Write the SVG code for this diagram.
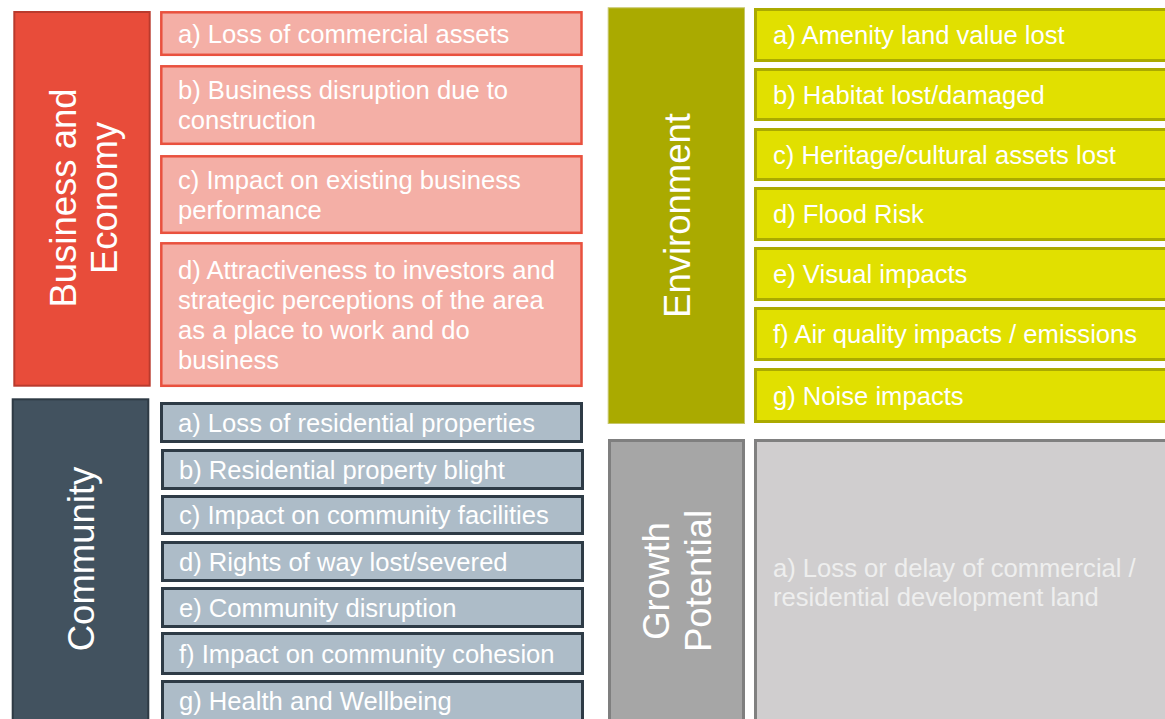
<svg xmlns="http://www.w3.org/2000/svg" width="1165" height="719" viewBox="0 0 1165 719">
<style>
text{font-family:"Liberation Sans",Arial,sans-serif;}
.hd{font-size:36.5px;fill:#ffffff;text-anchor:middle;}
.it{font-size:25.6px;fill:#ffffff;}
.gt{font-size:25.6px;fill:#eeeeee;}
.bh{fill:#E84C3A;stroke:#B93A2D;stroke-width:2;}
.bi{fill:#F4AFA6;stroke:#E9513E;stroke-width:2.5;}
.ch{fill:#42525F;stroke:#2E3A44;stroke-width:2;}
.ci{fill:#ADBCC8;stroke:#2E3B46;stroke-width:3;}
.eh{fill:#AAAA00;stroke:#C6C66A;stroke-width:1;}
.ei{fill:#E1E000;stroke:#ABAA00;stroke-width:3;}
.gh{fill:#A6A6A6;stroke:#7F7F7F;stroke-width:3;}
.gi{fill:#D0CECF;stroke:#808080;stroke-width:3;}
</style>
<rect width="1165" height="719" fill="#ffffff"/>
<g id="connectors"/>

<g id="business-header">
<rect class="bh" x="14.3" y="12" width="135.4" height="373.7"/>
<g transform="translate(76,198) rotate(-90)">
<text class="hd" x="0" y="0">Business and</text>
<text class="hd" x="0" y="41">Economy</text>
</g>
</g>
<g id="business-a"><rect class="bi" x="161.3" y="12.3" width="420.2" height="42.5"/><text class="it" x="178" y="42.5">a) Loss of commercial assets</text></g>
<g id="business-b"><rect class="bi" x="161.3" y="66.3" width="420.2" height="77.5"/><text class="it" x="178" y="99">b) Business disruption due to</text><text class="it" x="178" y="129">construction</text></g>
<g id="business-c"><rect class="bi" x="161.3" y="156.3" width="420.2" height="76.5"/><text class="it" x="178" y="188.5">c) Impact on existing business</text><text class="it" x="178" y="218.5">performance</text></g>
<g id="business-d"><rect class="bi" x="161.3" y="243.3" width="420.2" height="142.5"/><text class="it" x="178" y="278.5">d) Attractiveness to investors and</text><text class="it" x="178" y="308.8">strategic perceptions of the area</text><text class="it" x="178" y="339.1">as a place to work and do</text><text class="it" x="178" y="369.4">business</text></g>

<g id="community-header">
<rect class="ch" x="12.7" y="399.3" width="135.6" height="330"/>
<text class="hd" transform="translate(93.5,559) rotate(-90)" x="0" y="0">Community</text>
</g>
<g id="community-a"><rect class="ci" x="161.5" y="403.5" width="420" height="38"/><text class="it" x="178" y="431.5">a) Loss of residential properties</text></g>
<g id="community-b"><rect class="ci" x="162.5" y="450.5" width="420" height="38"/><text class="it" x="179" y="478.8">b) Residential property blight</text></g>
<g id="community-c"><rect class="ci" x="162.5" y="496.5" width="420" height="37"/><text class="it" x="179" y="524">c) Impact on community facilities</text></g>
<g id="community-d"><rect class="ci" x="162.5" y="542.5" width="420" height="38"/><text class="it" x="179" y="570.5">d) Rights of way lost/severed</text></g>
<g id="community-e"><rect class="ci" x="162.5" y="588.5" width="420" height="38"/><text class="it" x="179" y="616.5">e) Community disruption</text></g>
<g id="community-f"><rect class="ci" x="162.5" y="633.5" width="420" height="40"/><text class="it" x="179" y="662.5">f) Impact on community cohesion</text></g>
<g id="community-g"><rect class="ci" x="162.5" y="681.5" width="420" height="50"/><text class="it" x="179" y="710">g) Health and Wellbeing</text></g>

<g id="environment-header">
<rect class="eh" x="608.2" y="7.8" width="136.3" height="415.7"/>
<text class="hd" transform="translate(689.5,215.5) rotate(-90)" x="0" y="0">Environment</text>
</g>
<g id="environment-a"><rect class="ei" x="755.5" y="9.5" width="420" height="51"/><text class="it" x="773" y="44">a) Amenity land value lost</text></g>
<g id="environment-b"><rect class="ei" x="755.5" y="69.5" width="420" height="50"/><text class="it" x="773" y="103.5">b) Habitat lost/damaged</text></g>
<g id="environment-c"><rect class="ei" x="755.5" y="129.5" width="420" height="50"/><text class="it" x="773" y="163.5">c) Heritage/cultural assets lost</text></g>
<g id="environment-d"><rect class="ei" x="755.5" y="188.5" width="420" height="51"/><text class="it" x="773" y="223">d) Flood Risk</text></g>
<g id="environment-e"><rect class="ei" x="755.5" y="248.5" width="420" height="51"/><text class="it" x="773" y="283">e) Visual impacts</text></g>
<g id="environment-f"><rect class="ei" x="755.5" y="308.5" width="420" height="51"/><text class="it" x="773" y="343">f) Air quality impacts / emissions</text></g>
<g id="environment-g"><rect class="ei" x="755.5" y="369.5" width="420" height="52"/><text class="it" x="773" y="404.5">g) Noise impacts</text></g>

<g id="growth-header">
<rect class="gh" x="609.5" y="440.5" width="134" height="300"/>
<g transform="translate(669,581) rotate(-90)">
<text class="hd" x="0" y="0">Growth</text>
<text class="hd" x="0" y="42">Potential</text>
</g>
</g>
<g id="growth-a"><rect class="gi" x="755.5" y="440.5" width="420" height="300"/><text class="gt" x="773" y="577">a) Loss or delay of commercial /</text><text class="gt" x="773" y="606">residential development land</text></g>
</svg>
